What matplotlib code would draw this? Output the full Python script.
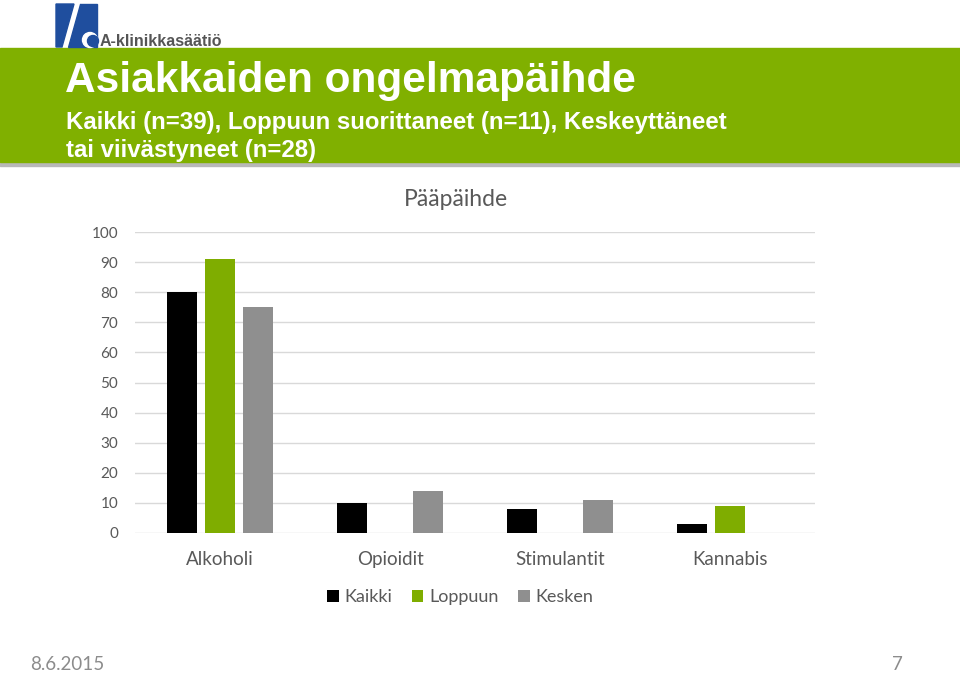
import matplotlib.pyplot as plt
import matplotlib.patches as mpatches
import numpy as np

# === DATA ===
categories = ["Alkoholi", "Opioidit", "Stimulantit", "Kannabis"]
kaikki = [80, 10, 8, 3]
loppuun = [91, 0, 0, 9]
kesken = [75, 14, 11, 0]
series_names = ["Kaikki", "Loppuun", "Kesken"]
y_ticks = [0, 10, 20, 30, 40, 50, 60, 70, 80, 90, 100]

title = "Asiakkaiden ongelmapäihde"
subtitle = "Kaikki (n=39), Loppuun suorittaneet (n=11), Keskeyttäneet\ntai viivästyneet (n=28)"
chart_title = "Pääpäihde"

# === STYLE ===
green = "#7FAD00"
banner_green = "#80B000"
grey_bar = "#8F8F8F"
text_grey = "#595959"
body_font = ["Lato", "DejaVu Sans"]
W, H = 960, 674

fig = plt.figure(figsize=(W / 100, H / 100), dpi=100)

# --- overlay in pixel coordinates for banner, logo, footer ---
bg = fig.add_axes([0, 0, 1, 1])
bg.set_xlim(0, W)
bg.set_ylim(H, 0)
bg.axis("off")

# banner shadow + banner
bg.add_patch(mpatches.Rectangle((0, 160), W, 6, color="#B8B8B8", zorder=1))
bg.add_patch(mpatches.Rectangle((0, 48), W, 114, color=banner_green, zorder=2))

bg.text(65, 81, title, color="white", fontsize=30.5, fontweight="bold",
        family=["Liberation Sans", "DejaVu Sans"], va="center", ha="left", zorder=3)
bg.text(66, 123, subtitle.split("\n")[0], color="white", fontsize=17.3, fontweight="bold",
        family=["Liberation Sans", "DejaVu Sans"], va="center", ha="left", zorder=3)
bg.text(66, 150, subtitle.split("\n")[1], color="white", fontsize=17.3, fontweight="bold",
        family=["Liberation Sans", "DejaVu Sans"], va="center", ha="left", zorder=3)

# logo
logo_blue = "#1F4E9E"
bg.add_patch(mpatches.Polygon([(56, 4), (74, 4), (62, 47), (56, 47)], color=logo_blue, zorder=3))
bg.add_patch(mpatches.Polygon([(80, 4), (97, 4), (97, 47), (68, 47)], color=logo_blue, zorder=3))
bg.add_patch(mpatches.Circle((90, 40), 7.5, color="white", zorder=4))
bg.add_patch(mpatches.Circle((93, 41), 5.5, color=logo_blue, zorder=5))
bg.text(100, 41, "A-klinikkasäätiö", color="#555555", fontsize=11.5, fontweight="bold",
        family=["Liberation Sans", "DejaVu Sans"], va="center", ha="left", zorder=3)

# footer
bg.text(30, 664, "8.6.2015", color="#8C8C8C", fontsize=13.5, family=body_font,
        va="center", ha="left")
bg.text(903, 664, "7", color="#8C8C8C", fontsize=13.5, family=body_font,
        va="center", ha="right")

# --- chart ---
ax = fig.add_axes([135 / W, (H - 533) / H, 680 / W, (533 - 232) / H])
x = np.arange(len(categories))
width = 0.176
offset = 0.2235
ax.bar(x - offset, kaikki, width, color="black", label=series_names[0], zorder=3)
ax.bar(x, loppuun, width, color=green, label=series_names[1], zorder=3)
ax.bar(x + offset, kesken, width, color=grey_bar, label=series_names[2], zorder=3)

ax.set_xlim(-0.5, len(categories) - 0.5)
ax.set_ylim(0, 100)
ax.set_yticks(y_ticks)
ax.set_xticks(x)
ax.set_xticklabels(categories)
ax.grid(axis="y", color="#D9D9D9", linewidth=1, zorder=0)
for s in ax.spines.values():
    s.set_visible(False)
ax.tick_params(length=0)
ax.tick_params(axis="y", labelsize=11, labelcolor=text_grey, pad=12)
ax.tick_params(axis="x", labelsize=13.5, labelcolor=text_grey, pad=13)
for lbl in ax.get_xticklabels() + ax.get_yticklabels():
    lbl.set_family(body_font)

# chart title is centred on the whole chart area, not the plot area
ax.text((456 - 135) / 680, 1 + (232 - 199) / 301, chart_title, transform=ax.transAxes,
        fontsize=16.5, color=text_grey, family=body_font, ha="center", va="center")

leg = ax.legend(loc="center", bbox_to_anchor=((460 - 135) / 680, -(597 - 533) / 301), ncol=3,
                frameon=False, handlelength=0.65, handleheight=0.65, handletextpad=0.3,
                columnspacing=1.1, borderpad=0, prop={"family": body_font, "size": 13})
for t in leg.get_texts():
    t.set_color(text_grey)

fig.savefig("out.png", dpi=100)
